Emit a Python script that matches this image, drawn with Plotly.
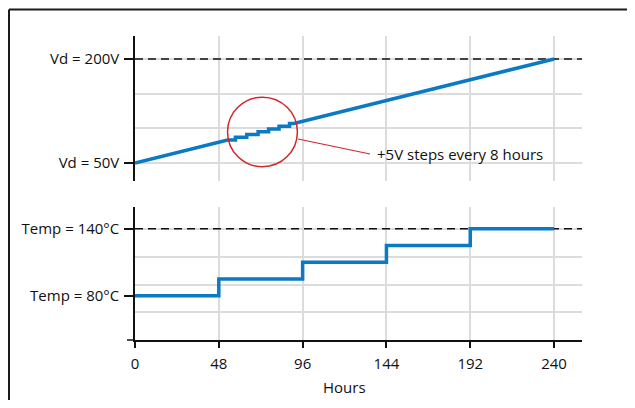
import plotly.graph_objects as go
from plotly.subplots import make_subplots

# ---- data ----
hour_ticks = [0, 48, 96, 144, 192, 240]
hour_labels = ["0", "48", "96", "144", "192", "240"]

vd_hours = [0, 53, 57.5, 57.5, 64, 64, 70.5, 70.5, 76.5, 76.5, 82.5, 82.5, 88.5, 88.5, 91, 240]
vd_volts = [50, 83, 83, 87, 87, 91, 91, 95, 95, 99, 99, 103, 103, 107, 107, 200]

temp_hours = [0, 48, 96, 144, 192, 240]
temp_values = [80, 95, 110, 125, 140, 140]

vd_tickvals = [50, 200]
vd_ticktext = ["Vd = 50V", "Vd = 200V"]
vd_grid = [100, 150]
vd_limit = 200

temp_tickvals = [80, 140]
temp_ticktext = ["Temp = 80°C", "Temp = 140°C"]
temp_grid = [65, 90, 115, 140]
temp_limit = 140

circle_box = [53, 93, 44.5, 145]          # hours x0,x1 ; volts y0,y1
callout_line = [93.4, 84.6, 134.6, 63]     # from (h,V) to (h,V)
callout_text = "+5V steps every 8 hours"
x_title = "Hours"

BLUE = "#0a7ac4"
RED = "#d2262b"
GRID = "#dcdcdc"
INK = "#111111"
FONT = "Open Sans"

# page has an 8px body margin: figure pixel = screen pixel - 8
OFF = 8
W, H = 635 - 2 * OFF, 408 - 2 * OFF
px_left, px_right, px_top, px_bottom = 135 - OFF, 582 - OFF, 36 - OFF, 340 - OFF
L, R, T, B = px_left, W - px_right, px_top, H - px_bottom
plot_w = px_right - px_left
plot_h = px_bottom - px_top


def py(screen_y):
    return (px_bottom - (screen_y - OFF)) / plot_h


def px(screen_x):
    return ((screen_x - OFF) - px_left) / plot_w


fig = make_subplots(rows=2, cols=1, shared_xaxes=True, vertical_spacing=0.0)

fig.add_trace(go.Scatter(x=vd_hours, y=vd_volts, mode="lines",
                         line=dict(color=BLUE, width=3.5), showlegend=False),
              row=1, col=1)
fig.add_trace(go.Scatter(x=temp_hours, y=temp_values, mode="lines",
                         line=dict(color=BLUE, width=3.5, shape="hv"), showlegend=False),
              row=2, col=1)

top_dom = [py(181), 1.0]
bot_dom = [0.0, py(207)]

xcommon = dict(range=[0, 256], tickvals=hour_ticks, ticktext=hour_labels,
               showgrid=True, gridcolor=GRID, gridwidth=1.5, zeroline=False)

fig.update_layout(
    width=W, height=H,
    margin=dict(l=L, r=R, t=T, b=B, pad=0),
    paper_bgcolor="white", plot_bgcolor="white",
    font=dict(family=FONT, size=15, color=INK),
    xaxis=dict(**xcommon, showticklabels=False, ticks="", showline=False),
    xaxis2=dict(**xcommon, showticklabels=True, ticks="outside", ticklen=6,
                tickwidth=1.5, tickcolor=INK, showline=True,
                linecolor=INK, linewidth=1.5, ticklabelstandoff=3),
    yaxis=dict(domain=top_dom, range=[24, 233.2], tickvals=vd_tickvals,
               ticktext=vd_ticktext, ticks="outside", ticklen=9, tickwidth=1.5,
               tickcolor=INK, showline=True, linecolor=INK,
               linewidth=1.5, showgrid=True, gridcolor=GRID, gridwidth=1.5,
               zeroline=False, ticklabelstandoff=2,
               minor=dict(tickvals=vd_grid, showgrid=True, gridcolor=GRID,
                          gridwidth=1.5, ticks="")),
    yaxis2=dict(domain=bot_dom, range=[40.3, 159.4], tickvals=temp_tickvals,
                ticktext=temp_ticktext, ticks="outside", ticklen=9, tickwidth=1.5,
                tickcolor=INK, showline=True, linecolor=INK,
                linewidth=1.5, showgrid=False, zeroline=False, ticklabelstandoff=2,
                minor=dict(tickvals=temp_grid, showgrid=True, gridcolor=GRID,
                           gridwidth=1.5, ticks="")),
)

# dashed limit lines
fig.add_shape(type="line", xref="x", yref="y", x0=0, x1=256, y0=vd_limit, y1=vd_limit,
              line=dict(color=INK, width=1.5, dash="8px,5px"), layer="between")
fig.add_shape(type="line", xref="x2", yref="y2", x0=0, x1=256, y0=temp_limit, y1=temp_limit,
              line=dict(color=INK, width=1.5, dash="8px,5px"), layer="between")

# red circle and callout
fig.add_shape(type="circle", xref="x", yref="y",
              x0=circle_box[0], x1=circle_box[1], y0=circle_box[2], y1=circle_box[3],
              line=dict(color=RED, width=1.5))
fig.add_shape(type="line", xref="x", yref="y",
              x0=callout_line[0], y0=callout_line[1], x1=callout_line[2], y1=callout_line[3],
              line=dict(color=RED, width=1.2))
fig.add_annotation(xref="x", yref="y", x=callout_line[2] + 3.0, y=callout_line[3],
                   text=callout_text, showarrow=False, xanchor="left", yanchor="middle",
                   font=dict(size=15, color=INK))

# x-axis line extension to the left
fig.add_shape(type="line", xref="paper", yref="paper", x0=-8 / plot_w, x1=0, y0=0, y1=0,
              line=dict(color=INK, width=1.5))

# axis title
fig.add_annotation(xref="x2", yref="paper", x=120, y=py(386.7),
                   text=x_title, showarrow=False, xanchor="center", yanchor="middle",
                   font=dict(size=15, color=INK))

# outer frame: only its top and left edges are inside the picture
frame = dict(color="#1a1a1a", width=2)
fig.add_shape(type="line", xref="paper", yref="paper",
              x0=px(9), x1=px(627), y0=py(9.5), y1=py(9.5), line=frame)
fig.add_shape(type="line", xref="paper", yref="paper",
              x0=px(9), x1=px(9), y0=py(9.5), y1=py(400), line=frame)

fig.write_html("out.html")
